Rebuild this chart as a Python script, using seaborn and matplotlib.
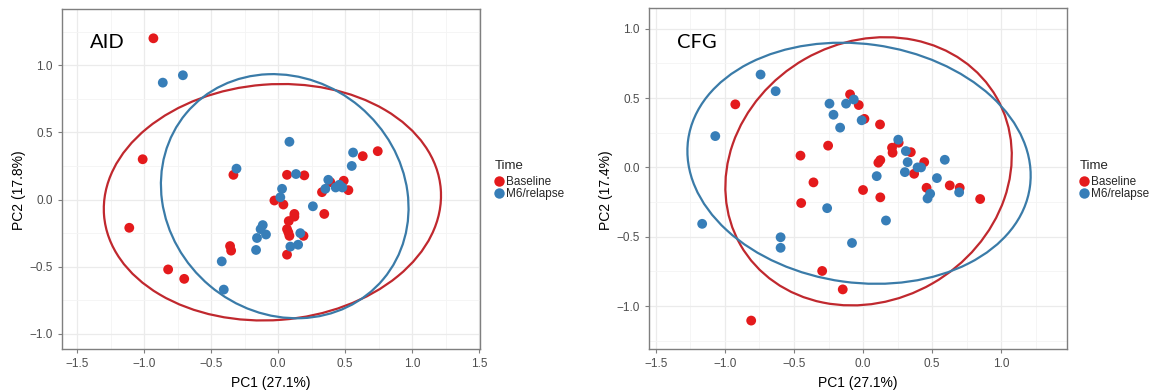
import numpy as np
import pandas as pd
import matplotlib
matplotlib.use("Agg")
import matplotlib.pyplot as plt
import seaborn as sns
from matplotlib.patches import Ellipse
from matplotlib.lines import Line2D
from matplotlib.ticker import MultipleLocator

# ---------------- data ----------------
time_levels = ["Baseline", "M6/relapse"]
panel_names = ["AID", "CFG"]
x_title = "PC1 (27.1%)"
y_titles = ["PC2 (17.8%)", "PC2 (17.4%)"]

aid_base_pc1 = [0.744, 0.632, 0.067, 0.196, 0.49, 0.39, 0.328, 0.525, -0.027, 0.04,
                0.122, 0.122, 0.345, 0.08, 0.067, 0.077, 0.085, 0.19, 0.067,
                -0.93, -1.01, -0.333, -1.11, -0.82, -0.70, -0.358, -0.35]
aid_base_pc2 = [0.36, 0.323, 0.184, 0.18, 0.14, 0.13, 0.055, 0.07, -0.007, -0.037,
                -0.107, -0.127, -0.107, -0.16, -0.22, -0.244, -0.27, -0.27, -0.41,
                1.2, 0.30, 0.184, -0.21, -0.52, -0.59, -0.346, -0.38]
aid_m6_pc1 = [0.085, 0.56, 0.55, 0.134, 0.375, 0.457, 0.43, 0.48, 0.353, 0.03,
              0.017, 0.26, -0.114, -0.13, -0.09, -0.157, -0.164, 0.166, 0.15, 0.092,
              -0.42, -0.405, -0.31, -0.86, -0.71]
aid_m6_pc2 = [0.43, 0.35, 0.25, 0.19, 0.147, 0.11, 0.09, 0.09, 0.08, 0.08,
              0.017, -0.05, -0.19, -0.22, -0.26, -0.286, -0.375, -0.25, -0.336, -0.35,
              -0.46, -0.67, 0.23, 0.87, 0.925]

cfg_base_pc1 = [-0.094, -0.031, 0.01, 0.123, -0.453, -0.253, -0.359, -0.448, 0.0, 0.125,
                0.21, 0.258, 0.214, 0.346, 0.111, 0.125, 0.443, 0.37, 0.46, 0.628,
                0.70, 0.848, -0.925, -0.81, -0.296, -0.147]
cfg_base_pc2 = [0.527, 0.45, 0.35, 0.31, 0.085, 0.157, -0.108, -0.257, -0.163, -0.216,
                0.142, 0.178, 0.106, 0.11, 0.034, 0.053, 0.038, -0.046, -0.147, -0.13,
                -0.147, -0.228, 0.455, -1.105, -0.747, -0.88]
cfg_m6_pc1 = [-0.633, -0.243, -0.214, -0.166, -0.123, -0.067, -0.01, 0.255, 0.31, 0.323,
              0.303, 0.395, 0.42, 0.535, 0.592, 0.696, 0.467, 0.486, 0.099, -0.26,
              0.166, -0.08, -0.742, -1.07, -1.165, -0.597, -0.597]
cfg_m6_pc2 = [0.55, 0.46, 0.38, 0.287, 0.46, 0.49, 0.34, 0.20, 0.118, 0.038,
              -0.034, 0.0, 0.0, -0.077, 0.055, -0.18, -0.224, -0.19, -0.063, -0.294,
              -0.383, -0.545, 0.67, 0.226, -0.407, -0.504, -0.58]

# 95% ellipse summaries (Baseline, M6/relapse) per panel
aid_ell_cx = [-0.042, 0.05]
aid_ell_cy = [-0.02, 0.025]
aid_ell_semi_a = [1.26, 0.96]
aid_ell_semi_b = [0.877, 0.87]
aid_ell_angle = [4.4, -40.0]
cfg_ell_cx = [0.04, -0.029]
cfg_ell_cy = [-0.028, 0.03]
cfg_ell_semi_a = [1.069, 1.249]
cfg_ell_semi_b = [0.932, 0.861]
cfg_ell_angle = [29.7, -7.8]

# ---------------- style ----------------
palette = {"Baseline": "#E41A1C", "M6/relapse": "#377EB8"}
ell_colors = ["#C0282E", "#3A7BA8"]

sns.set_theme(style="white")
plt.rcParams["font.family"] = ["Liberation Sans", "DejaVu Sans"]


def make_df(b1, b2, m1, m2):
    return pd.DataFrame({
        "PC1": list(b1) + list(m1),
        "PC2": list(b2) + list(m2),
        "Time": [time_levels[0]] * len(b1) + [time_levels[1]] * len(m1),
    })


dfs = [make_df(aid_base_pc1, aid_base_pc2, aid_m6_pc1, aid_m6_pc2),
       make_df(cfg_base_pc1, cfg_base_pc2, cfg_m6_pc1, cfg_m6_pc2)]
ells = [(aid_ell_cx, aid_ell_cy, aid_ell_semi_a, aid_ell_semi_b, aid_ell_angle),
        (cfg_ell_cx, cfg_ell_cy, cfg_ell_semi_a, cfg_ell_semi_b, cfg_ell_angle)]

fig = plt.figure(figsize=(11.57, 3.92), dpi=100)
W, H = 1157, 392
boxes = [(62, 9, 480, 349), (649, 8, 1067, 349)]
xlims = [(-1.612, 1.507), (-1.55, 1.477)]
ylims = [(-1.112, 1.418), (-1.31, 1.15)]
label_pos = [(90, 42), (677, 42)]
legend_pos = [(495, 160), (1080, 160)]
ylab_x = [19, 606]

for i in range(2):
    l, t, r, b = boxes[i]
    ax = fig.add_axes([l / W, 1 - b / H, (r - l) / W, (b - t) / H])
    ax.set_facecolor("white")
    ax.xaxis.set_major_locator(MultipleLocator(0.5))
    ax.yaxis.set_major_locator(MultipleLocator(0.5))
    ax.xaxis.set_minor_locator(MultipleLocator(0.25))
    ax.yaxis.set_minor_locator(MultipleLocator(0.25))
    ax.grid(True, which="major", color="#EBEBEB", lw=0.9, zorder=0)
    ax.grid(True, which="minor", color="#F4F4F4", lw=0.6, zorder=0)
    ax.set_axisbelow(True)

    cx, cy, sa, sb, ang = ells[i]
    for k in range(2):
        ax.add_patch(Ellipse((cx[k], cy[k]), 2 * sa[k], 2 * sb[k], angle=ang[k],
                             fill=False, edgecolor=ell_colors[k], lw=1.6, zorder=2))

    sns.scatterplot(data=dfs[i], x="PC1", y="PC2", hue="Time", palette=palette,
                    hue_order=time_levels, s=50, edgecolor="none", linewidth=0,
                    legend=False, ax=ax, zorder=3)
    ax.set_xlim(*xlims[i])
    ax.set_ylim(*ylims[i])
    ax.set_xlabel(x_title, fontsize=10, color="black", labelpad=4)
    ax.set_ylabel("")
    fig.text(ylab_x[i] / W, 1 - 190 / H, y_titles[i], rotation=90, ha="center",
             va="center", fontsize=10, color="black")
    ax.tick_params(axis="both", which="major", labelsize=8.5, labelcolor="#4D4D4D",
                   color="#7F7F7F", length=3, width=0.8, direction="out",
                   bottom=True, left=True)
    ax.tick_params(which="minor", length=0)
    for sp in ax.spines.values():
        sp.set_color("#7F7F7F")
        sp.set_linewidth(1.0)

    lx, ly = label_pos[i]
    fig.text(lx / W, 1 - ly / H, panel_names[i], fontsize=14.5, family="Lato",
             ha="left", va="center", color="black")

    handles = [Line2D([0], [0], marker="o", color="none", markerfacecolor=palette[t],
                      markeredgecolor="none", markersize=7.5, label=t) for t in time_levels]
    gx, gy = legend_pos[i]
    leg = fig.legend(handles=handles, title="Time", loc="upper left",
                     bbox_to_anchor=(gx / W, 1 - gy / H), frameon=False,
                     fontsize=8.5, title_fontsize=9.5, handlelength=0.6,
                     handletextpad=0.35, labelspacing=0.02, borderpad=0,
                     borderaxespad=0)
    leg._legend_box.align = "left"
    leg._legend_box.sep = 3

fig.savefig("out.png", dpi=100)
